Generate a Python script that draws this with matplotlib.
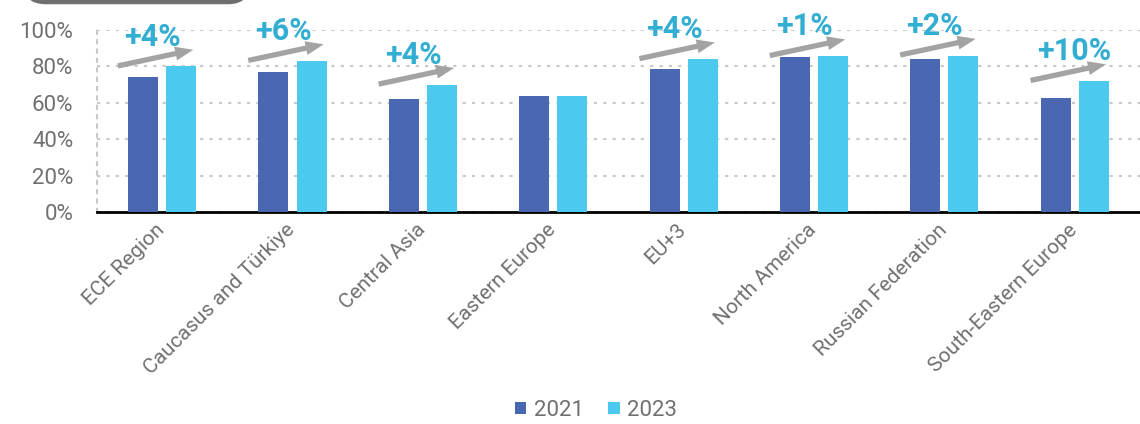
import numpy as np
import matplotlib.pyplot as plt
import matplotlib.transforms as mtransforms
from matplotlib.patches import FancyBboxPatch

plt.rcParams['font.family'] = ['Roboto', 'DejaVu Sans']

regions = ['ECE Region', 'Caucasus and Türkiye', 'Central Asia', 'Eastern Europe',
           'EU+3', 'North America', 'Russian Federation', 'South-Eastern Europe']
vals_2021 = [74, 77, 62, 64, 78.5, 85, 84, 62.5]
vals_2023 = [80, 83, 70, 64, 84, 85.7, 86, 72]
change_labels = ['+4%', '+6%', '+4%', None, '+4%', '+1%', '+2%', '+10%']

c21 = '#4A67B1'
c23 = '#4BC9EF'
grey_txt = '#707070'

fig = plt.figure(figsize=(11.4, 4.24), dpi=100)
ax = fig.add_axes([0.085, 0.5, 0.915, 0.429])

x = np.arange(len(regions))
w = 0.23
off = 0.146
ax.bar(x - off, [v / 100 for v in vals_2021], w, color=c21, label='2021', zorder=3)
ax.bar(x + off, [v / 100 for v in vals_2023], w, color=c23, label='2023', zorder=3)

ax.set_xlim(-0.5, len(regions) - 0.5)
ax.set_ylim(0, 1.0)
ticks = np.arange(0, 1.01, 0.2)
ax.set_yticks(ticks)
ax.set_yticklabels([f'{int(round(t * 100))}%' for t in ticks])
ax.yaxis.grid(True, linestyle=(0, (1.5, 3)), color='#C8C8C8', linewidth=1.5, zorder=0)
ax.set_axisbelow(True)

for s in ['top', 'right']:
    ax.spines[s].set_visible(False)
ax.spines['left'].set_linestyle((0, (1.5, 3)))
ax.spines['left'].set_color('#C8C8C8')
ax.spines['left'].set_linewidth(1.5)
ax.spines['bottom'].set_color('black')
ax.spines['bottom'].set_linewidth(2)

ax.tick_params(axis='y', length=0, labelsize=16, labelcolor=grey_txt, pad=17)
ax.tick_params(axis='x', length=0, pad=6)
ax.set_xticks(x)
ax.set_xticklabels(regions, rotation=45, ha='right', va='top', rotation_mode='anchor',
                   fontsize=15, color=grey_txt)
shift = mtransforms.ScaledTranslation(-7 / 100, 0, fig.dpi_scale_trans)
for lbl in ax.get_xticklabels():
    lbl.set_transform(lbl.get_transform() + shift)

# growth arrows and labels
for i, lab in enumerate(change_labels):
    if lab is None:
        continue
    y0 = max(vals_2021[i], vals_2023[i]) / 100
    ax.annotate('', xy=(i + 0.26, y0 + 0.095), xytext=(i - 0.36, y0),
                arrowprops=dict(arrowstyle='simple,head_length=0.65,head_width=0.5,tail_width=0.19',
                                mutation_scale=20, color='#A3A3A3', lw=0), zorder=4)
    ax.text(i - 0.29, y0 + 0.115, lab, ha='left', va='baseline', fontsize=22,
            fontweight='bold', color='#33AED3', zorder=5)

leg = fig.legend(loc='lower center', bbox_to_anchor=(0.523, -0.04), ncol=2, frameon=False,
                 fontsize=16, handlelength=0.5, handleheight=0.5, handletextpad=0.35,
                 columnspacing=1.1)
for t in leg.get_texts():
    t.set_color(grey_txt)

# partial header box at top-left
box = FancyBboxPatch((0.02, 0.99), 0.2, 0.06, boxstyle='round,pad=0,rounding_size=0.02',
                     transform=fig.transFigure, facecolor='#6F6F6F', edgecolor='none',
                     mutation_aspect=2.7)
fig.patches.append(box)

fig.savefig('out.png', dpi=100)
